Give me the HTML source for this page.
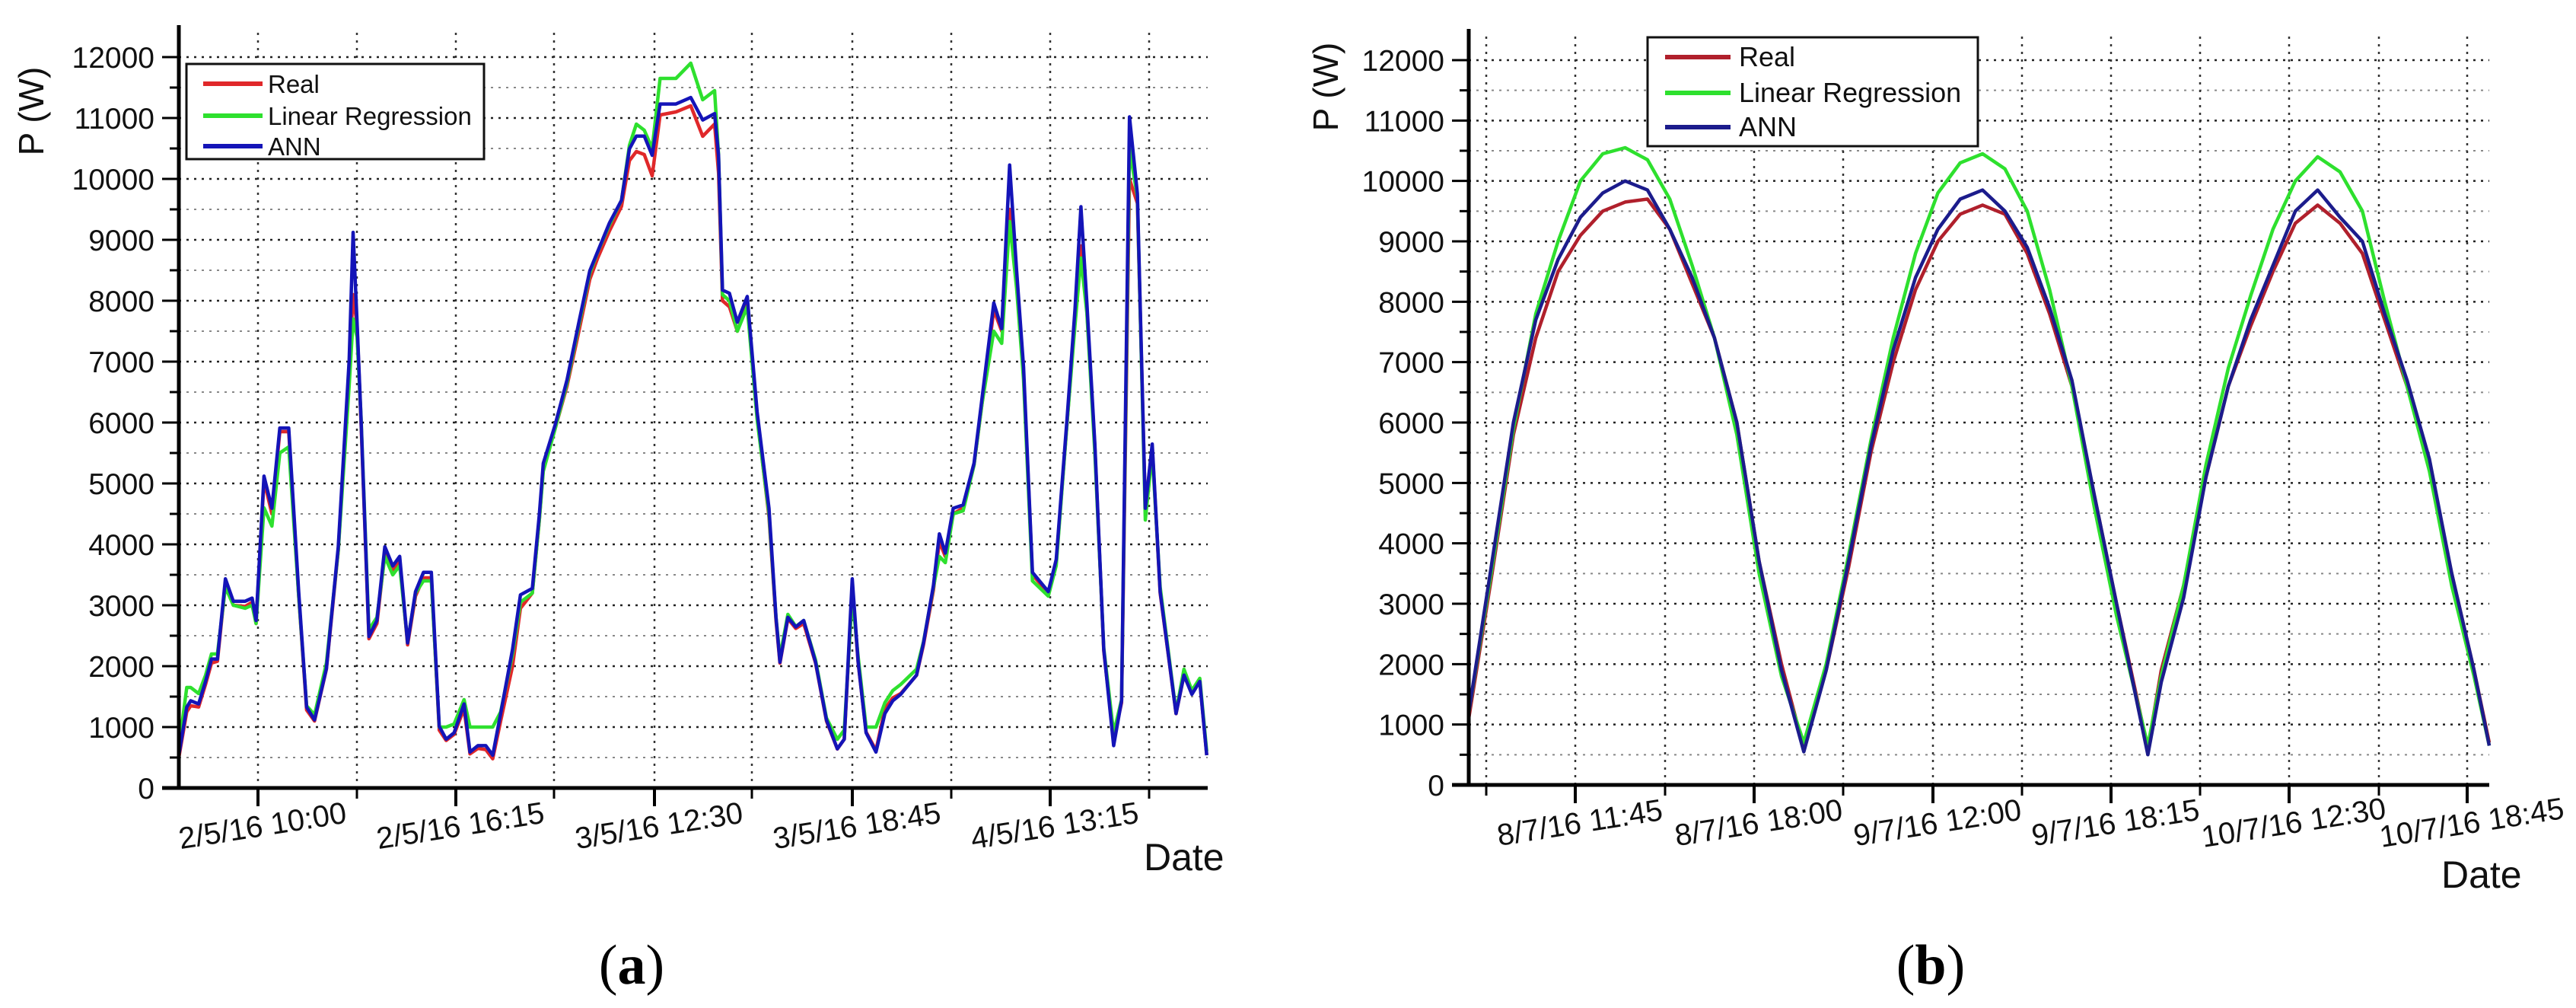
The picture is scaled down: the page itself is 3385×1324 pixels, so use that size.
<!DOCTYPE html>
<html><head><meta charset="utf-8"><style>
html,body{margin:0;padding:0;background:#fff;}
svg{display:block;font-family:"Liberation Sans",sans-serif;}
</style></head><body>
<svg id="fig" width="3385" height="1324" viewBox="0 0 3385 1324" xmlns="http://www.w3.org/2000/svg">
<g id="pa"></g>
<g id="pb"></g>
</svg>
<script>
// ---------- Panel (a) data ----------
const tA = [0,.08,.12,.2,.27,.33,.39,.47,.55,.67,.74,.78,.86,.94,1.02,1.11,1.21,1.29,1.37,1.49,1.61,1.72,1.76,1.80,1.84,1.92,2.00,2.08,2.16,2.23,2.31,2.39,2.47,2.55,2.63,2.70,2.78,2.88,2.94,3.02,3.10,3.17,3.25,3.37,3.45,3.57,3.64,3.68,3.80,3.92,4.04,4.15,4.23,4.35,4.47,4.55,4.62,4.70,4.78,4.86,5.02,5.17,5.29,5.41,5.45,5.49,5.56,5.64,5.74,5.84,5.96,6.03,6.07,6.15,6.23,6.31,6.43,6.54,6.65,6.72,6.80,6.86,6.94,7.04,7.13,7.21,7.29,7.45,7.52,7.62,7.68,7.74,7.82,7.92,8.03,8.11,8.23,8.31,8.39,8.46,8.53,8.62,8.78,8.86,8.97,9.05,9.11,9.17,9.25,9.34,9.44,9.52,9.60,9.68,9.76,9.83,9.91,10.07,10.15,10.23,10.31,10.38];
const annA = [537,1327,1433,1380,1749,2118,2118,3434,3066,3066,3118,2750,5120,4593,5910,5910,3224,1327,1117,1960,3961,7016,9123,7648,6069,2486,2750,3961,3645,3803,2381,3224,3540,3540,1011,801,906,1380,590,695,695,537,1222,2276,3171,3276,4488,5331,5963,6700,7648,8491,8807,9281,9650,10493,10704,10704,10388,11230,11230,11336,10967,11072,10388,8175,8122,7648,8070,6174,4593,2802,2065,2802,2644,2750,2065,1117,643,801,3434,2065,906,590,1222,1433,1538,1854,2381,3329,4172,3856,4593,4646,5331,6384,7964,7543,10229,8491,6911,3540,3224,3750,6069,7859,9544,7964,5647,2276,695,1433,11019,9755,4593,5647,3224,1222,1854,1538,1749,537];
const realA = [500,1250,1350,1330,1700,2050,2080,3350,3000,2980,3050,2700,5050,4500,5850,5850,3150,1280,1100,1950,3900,6900,8100,7600,6000,2450,2700,3850,3550,3750,2350,3150,3450,3450,950,780,880,1300,560,650,630,480,1100,2000,2950,3200,4400,5250,5900,6600,7500,8350,8700,9150,9550,10300,10450,10400,10050,11050,11100,11200,10700,10900,10100,8000,7900,7500,7950,6100,4450,2750,2050,2780,2620,2700,2050,1100,640,800,3300,2050,920,620,1300,1480,1550,1850,2350,3250,4050,3800,4500,4600,5300,6300,7850,7500,9500,8400,6800,3500,3200,3700,6000,7700,8900,7850,5600,2250,800,1400,10000,9600,4600,5600,3200,1220,1850,1550,1750,540];
const lrA = [650,1650,1650,1550,1850,2200,2200,3300,3000,2950,3000,2700,4600,4300,5500,5600,3150,1350,1200,2050,3900,6600,7700,7400,6100,2600,2800,3800,3500,3650,2400,3200,3400,3400,1000,1000,1050,1450,1000,1000,1000,1000,1250,2200,3050,3200,4400,5200,5900,6650,7600,8450,8800,9250,9650,10550,10900,10800,10500,11650,11650,11900,11300,11450,10400,8100,8000,7500,7900,6050,4500,2800,2150,2850,2650,2750,2100,1150,800,950,3150,2150,1000,1000,1400,1600,1700,1950,2400,3300,3800,3700,4500,4550,5300,6300,7500,7300,9300,8200,6700,3400,3150,3650,6000,7600,8700,7800,5500,2300,900,1450,10500,9700,4400,5500,3300,1250,1950,1600,1800,600];
const ticksA = ['2/5/16 10:00','2/5/16 16:15','3/5/16 12:30','3/5/16 18:45','4/5/16 13:15'];
// ---------- Panel (b) data ----------
const tB = [0,.25,.5,.75,1,1.25,1.5,1.75,2,2.25,2.5,2.75,3,3.25,3.5,3.75,4,4.25,4.5,4.75,5,5.25,5.5,5.75,6,6.25,6.5,6.75,7,7.25,7.6,7.75,8,8.25,8.5,8.75,9,9.25,9.5,9.75,10,10.25,10.5,10.75,11,11.25,11.42];
const annB = [1200,3600,6000,7700,8700,9400,9800,10000,9850,9200,8400,7400,6000,3700,1900,550,1900,3700,5600,7200,8400,9200,9700,9850,9500,8900,7900,6700,4800,3000,500,1700,3100,5100,6600,7700,8600,9500,9850,9400,9000,7800,6700,5400,3500,1900,650];
const realB = [1100,3400,5800,7400,8500,9100,9500,9650,9700,9200,8300,7400,6000,3700,2000,600,1900,3600,5500,7000,8200,9000,9450,9600,9450,8800,7800,6600,4800,3000,600,1900,3300,5100,6600,7600,8500,9300,9600,9300,8800,7700,6600,5300,3500,1900,700];
const lrB = [1200,3500,5900,7800,9000,10000,10450,10550,10350,9700,8600,7400,5800,3500,1800,700,2000,3800,5700,7400,8800,9800,10300,10450,10200,9500,8200,6600,4600,2800,650,1800,3300,5300,6900,8100,9200,10000,10400,10150,9500,8000,6600,5200,3300,1800,650];
const ticksB = ['8/7/16 11:45','8/7/16 18:00','9/7/16 12:00','9/7/16 18:15','10/7/16 12:30','10/7/16 18:45'];
const yTickVals = [0,1000,2000,3000,4000,5000,6000,7000,8000,9000,10000,11000,12000];
const legendLabels = ['Real','Linear Regression','ANN'];

const NS='http://www.w3.org/2000/svg';
function mk(parent,tag,attrs,text){const e=document.createElementNS(NS,tag);for(const k in attrs)e.setAttribute(k,attrs[k]);if(text!==undefined)e.textContent=text;parent.appendChild(e);return e;}

function panel(g,cfg){
  const xS=v=>cfg.x0+(v-cfg.d0)/(cfg.d1-cfg.d0)*(cfg.x1-cfg.x0);
  const yS=v=>cfg.y0-(v/12000)*(cfg.y0-cfg.y12);
  for(let v=500;v<=12000;v+=500){
    const l=mk(g,'line',{x1:cfg.x0,x2:cfg.x1,y1:yS(v),y2:yS(v),stroke:v%1000?'#888':'#222','stroke-width':v%1000?2:2.5,'stroke-dasharray':'3,7'});
    
    
  }
  cfg.vgrid.forEach(x=>{
    const l=mk(g,'line',{x1:x,x2:x,y1:cfg.ytop+10,y2:cfg.y0,stroke:'#333','stroke-width':2.5,'stroke-dasharray':'3,7'});
    
    
  });
  const series=[[cfg.real,cfg.cReal,'series-real'],[cfg.lr,'#2ee02e','series-linear-regression'],[cfg.ann,cfg.cAnn,'series-ann']];
  series.forEach(s=>{
    const d=cfg.t.map((t,i)=>(i?'L':'M')+xS(t).toFixed(1)+','+yS(s[0][i]).toFixed(1)).join('');
    const p=mk(g,'path',{d:d,fill:'none',stroke:s[1],'stroke-width':4.5,'stroke-linejoin':'round'});
    
    
  });
  const ya=mk(g,'line',{x1:cfg.x0,x2:cfg.x0,y1:cfg.ytop,y2:cfg.y0+2,stroke:'#000','stroke-width':5});
  
  
  const xa=mk(g,'line',{x1:cfg.x0-22,x2:cfg.x1,y1:cfg.y0,y2:cfg.y0,stroke:'#000','stroke-width':5});
  
  
  for(let v=500;v<=12000;v+=1000){mk(g,'line',{x1:cfg.x0-12,x2:cfg.x0,y1:yS(v),y2:yS(v),stroke:'#000','stroke-width':3});}
  yTickVals.forEach(v=>{
    mk(g,'line',{x1:cfg.x0-22,x2:cfg.x0,y1:yS(v),y2:yS(v),stroke:'#000','stroke-width':3});
    const t=mk(g,'text',{x:cfg.x0-32,y:yS(v)+14,'text-anchor':'end','font-size':39,fill:'#111'},String(v));
    
    
  });
  cfg.minor.forEach(x=>mk(g,'line',{x1:x,x2:x,y1:cfg.y0,y2:cfg.y0+14,stroke:'#000','stroke-width':3}));
  cfg.major.forEach((x,i)=>{
    mk(g,'line',{x1:x,x2:x,y1:cfg.y0,y2:cfg.y0+24,stroke:'#000','stroke-width':4});
    const cx=x+6, cy=cfg.y0+50;
    const t=mk(g,'text',{x:cx,y:cy+13,'text-anchor':'middle','font-size':40,fill:'#111',transform:`rotate(-9 ${cx} ${cy})`},cfg.ticks[i]);
    
    
  });
  const yt=mk(g,'text',{x:cfg.ylx,y:cfg.yly+16,'text-anchor':'middle','font-size':46,fill:'#111',transform:`rotate(-90 ${cfg.ylx} ${cfg.yly})`},'P (W)');
  
  
  const xt=mk(g,'text',{x:cfg.dx,y:cfg.dy,'font-size':50,fill:'#111'},'Date');
  
  
  const L=cfg.leg;
  const lg=mk(g,'g',{});
  
  
  mk(lg,'rect',{x:L.x,y:L.y,width:L.w,height:L.h,fill:'#fff',stroke:'#111','stroke-width':3});
  const cols=[cfg.cReal,'#2ee02e',cfg.cAnn];
  legendLabels.forEach((lab,i)=>{
    const e=mk(lg,'g',{});
    
    
    mk(e,'line',{x1:L.lx1,x2:L.lx2,y1:L.ys[i],y2:L.ys[i],stroke:cols[i],'stroke-width':6});
    mk(e,'text',{x:L.tx,y:L.ys[i]+12,'font-size':L.fs,fill:'#111'},lab);
  });
  const cap=mk(g,'text',{x:cfg.capx,y:1292,'text-anchor':'middle','font-size':74,'font-family':'"Liberation Serif",serif',fill:'#000'},'');
  
  
  mk(cap,'tspan',{},'(');mk(cap,'tspan',{'font-weight':'bold'},cfg.capl);mk(cap,'tspan',{},')');
}

panel(document.getElementById('pa'),{
  x0:235,x1:1587,d0:0,d1:10.39,y0:1035,y12:75,ytop:33,
  t:tA,ann:annA,real:realA,lr:lrA,cReal:'#e0282a',cAnn:'#1414b8',
  vgrid:[339,469,599,728,860,988,1120,1250,1380,1510],
  major:[339,599,860,1120,1380],minor:[469,728,988,1250,1510],ticks:ticksA,
  ylx:41,yly:146,dx:1503,dy:1143,
  leg:{x:245,y:84,w:391,h:125,lx1:267,lx2:345,tx:352,fs:33,ys:[110,152,192]},
  capx:830,capl:'a'
});
panel(document.getElementById('pb'),{
  x0:1930,x1:3271,d0:0,d1:11.42,y0:1031,y12:79,ytop:38,
  t:tB,ann:annB,real:realB,lr:lrB,cReal:'#b0202c',cAnn:'#1c1c8c',
  vgrid:[1953,2070,2188,2305,2422,2540,2657,2774,2891,3008,3126,3242],
  major:[2070,2305,2540,2774,3008,3242],minor:[1953,2188,2422,2657,2891,3126],ticks:ticksB,
  ylx:1742,yly:114,dx:3208,dy:1166,
  leg:{x:2165,y:49,w:434,h:143,lx1:2188,lx2:2274,tx:2285,fs:36,ys:[75,122,167]},
  capx:2537,capl:'b'
});
</script>
</body></html>
